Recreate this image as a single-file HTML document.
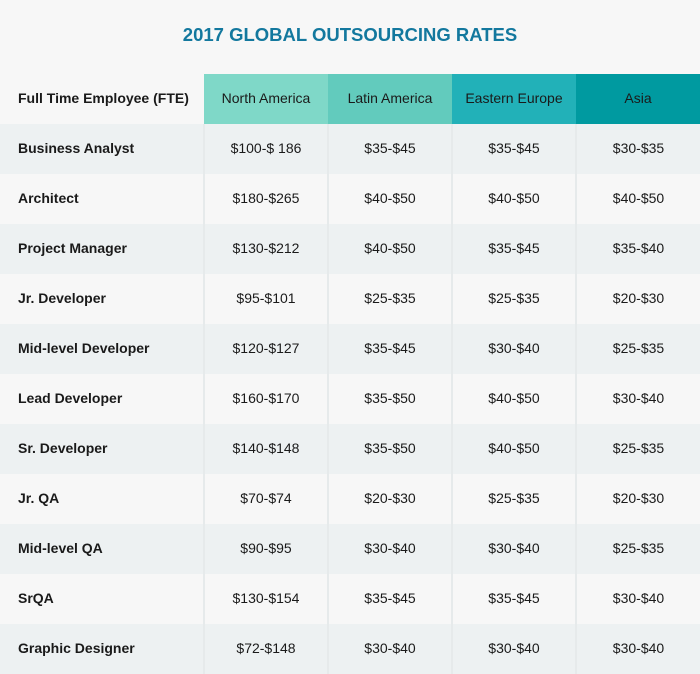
<!DOCTYPE html>
<html><head><meta charset="utf-8"><style>
html,body{margin:0;padding:0;background:#f7f7f7;}
body{width:700px;height:674px;overflow:hidden;position:relative;font-family:"Liberation Sans",sans-serif;}
h1{position:absolute;left:0;top:24px;width:700px;margin:0;text-align:center;font-size:18.5px;font-weight:bold;color:#13789e;letter-spacing:0px;}
table{position:absolute;left:0;top:74px;border-collapse:collapse;table-layout:fixed;width:700px;}
td{height:47px;padding:0 0 3px 0;text-align:center;font-size:14px;color:#1a1a1a;border-left:2px solid #e6eaeb;}
td:first-child{text-align:left;padding-left:18px;font-weight:bold;border-left:none;}
tr.h td{border-left:none;}
tr.s td{background:#edf1f2;}
</style></head><body>
<h1>2017 GLOBAL OUTSOURCING RATES</h1>
<table>
<colgroup><col style="width:204px"><col style="width:124px"><col style="width:124px"><col style="width:124px"><col style="width:124px"></colgroup>
<tr class="h"><td>Full Time Employee (FTE)</td><td style="background:#7fd8c8">North America</td><td style="background:#62cbbd">Latin America</td><td style="background:#22b1b8">Eastern Europe</td><td style="background:#009aa0">Asia</td></tr>
<tr class="s"><td>Business Analyst</td><td>$100-$ 186</td><td>$35-$45</td><td>$35-$45</td><td>$30-$35</td></tr>
<tr><td>Architect</td><td>$180-$265</td><td>$40-$50</td><td>$40-$50</td><td>$40-$50</td></tr>
<tr class="s"><td>Project Manager</td><td>$130-$212</td><td>$40-$50</td><td>$35-$45</td><td>$35-$40</td></tr>
<tr><td>Jr. Developer</td><td>$95-$101</td><td>$25-$35</td><td>$25-$35</td><td>$20-$30</td></tr>
<tr class="s"><td>Mid-level Developer</td><td>$120-$127</td><td>$35-$45</td><td>$30-$40</td><td>$25-$35</td></tr>
<tr><td>Lead Developer</td><td>$160-$170</td><td>$35-$50</td><td>$40-$50</td><td>$30-$40</td></tr>
<tr class="s"><td>Sr. Developer</td><td>$140-$148</td><td>$35-$50</td><td>$40-$50</td><td>$25-$35</td></tr>
<tr><td>Jr. QA</td><td>$70-$74</td><td>$20-$30</td><td>$25-$35</td><td>$20-$30</td></tr>
<tr class="s"><td>Mid-level QA</td><td>$90-$95</td><td>$30-$40</td><td>$30-$40</td><td>$25-$35</td></tr>
<tr><td>SrQA</td><td>$130-$154</td><td>$35-$45</td><td>$35-$45</td><td>$30-$40</td></tr>
<tr class="s"><td>Graphic Designer</td><td>$72-$148</td><td>$30-$40</td><td>$30-$40</td><td>$30-$40</td></tr>
</table>
</body></html>
